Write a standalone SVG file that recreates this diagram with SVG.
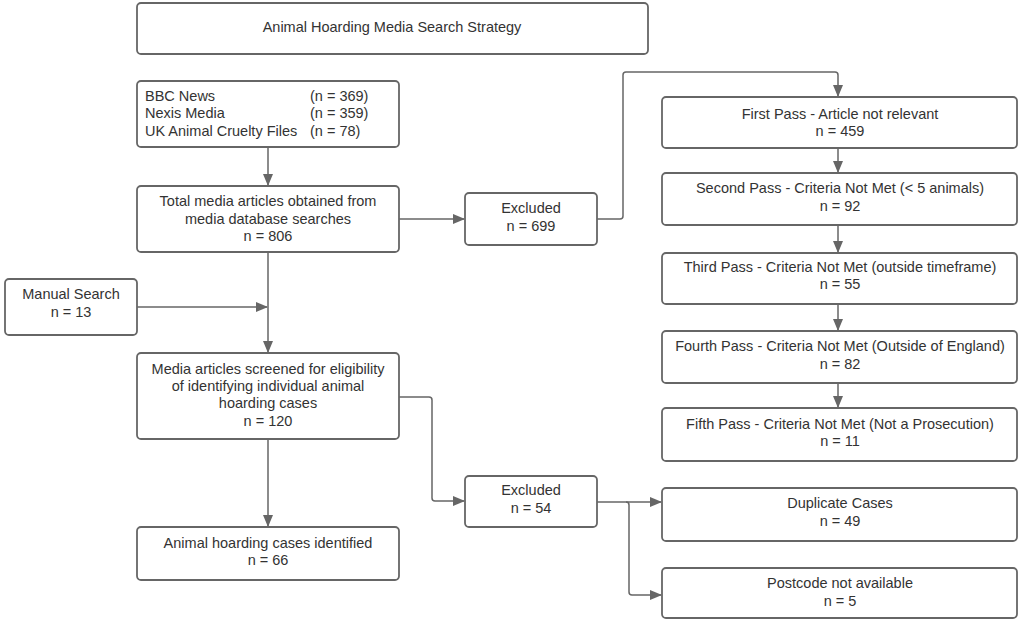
<svg xmlns="http://www.w3.org/2000/svg" width="1020" height="622" viewBox="0 0 1020 622">
<style>
.box{fill:#fff;stroke:#666;stroke-width:1.8}
.t{font-family:"Liberation Sans",Arial,sans-serif;font-size:14.5px;fill:#333;text-anchor:middle;dominant-baseline:central}
.tl{font-family:"Liberation Sans",Arial,sans-serif;font-size:14.5px;fill:#333;dominant-baseline:central}
.c{fill:none;stroke:#666;stroke-width:1.5}
</style>
<defs>
<marker id="ah" viewBox="0 0 12 10" refX="11" refY="5" markerWidth="12" markerHeight="10" markerUnits="userSpaceOnUse" orient="auto">
<path d="M0,0 L12,5 L0,10 Z" fill="#666"/>
</marker>
</defs>
<rect width="1020" height="622" fill="#fff"/>
<g id="connectors">
<path class="c" d="M268,147 V185" marker-end="url(#ah)"/>
<path class="c" d="M399,219 H464" marker-end="url(#ah)"/>
<path class="c" d="M597,219 H620 Q623,219 623,216 V75 Q623,72 626,72 H835 Q838,72 838,75 V96" marker-end="url(#ah)"/>
<path class="c" d="M838,148 V172" marker-end="url(#ah)"/>
<path class="c" d="M838,225 V252" marker-end="url(#ah)"/>
<path class="c" d="M838,304 V330" marker-end="url(#ah)"/>
<path class="c" d="M838,383 V407" marker-end="url(#ah)"/>
<path class="c" d="M268,252 V352" marker-end="url(#ah)"/>
<path class="c" d="M137,307 H267" marker-end="url(#ah)"/>
<path class="c" d="M268,439 V526" marker-end="url(#ah)"/>
<path class="c" d="M399,397 H429 Q432,397 432,400 V498 Q432,501 435,501 H464" marker-end="url(#ah)"/>
<path class="c" d="M597,502 H661" marker-end="url(#ah)"/>
<path class="c" d="M626,502 Q629,502 629,505 V592 Q629,595 632,595 H661" marker-end="url(#ah)"/>
</g>
<g id="title">
<rect class="box" x="137" y="3" width="511" height="51" rx="4"/>
<text class="t" x="392" y="27">Animal Hoarding Media Search Strategy</text>
</g>
<g id="sources">
<rect class="box" x="137" y="81" width="262" height="66" rx="4"/>
<text class="tl" x="145" y="96">BBC News</text>
<text class="tl" x="310" y="96">(n = 369)</text>
<text class="tl" x="145" y="113">Nexis Media</text>
<text class="tl" x="310" y="113">(n = 359)</text>
<text class="tl" x="145" y="131">UK Animal Cruelty Files</text>
<text class="tl" x="310" y="131">(n = 78)</text>
</g>
<g id="total">
<rect class="box" x="137" y="186" width="262" height="66" rx="4"/>
<text class="t" x="268" y="201">Total media articles obtained from</text>
<text class="t" x="268" y="219">media database searches</text>
<text class="t" x="268" y="236">n = 806</text>
</g>
<g id="excluded1">
<rect class="box" x="465" y="193" width="132" height="52" rx="4"/>
<text class="t" x="531" y="208">Excluded</text>
<text class="t" x="531" y="226">n = 699</text>
</g>
<g id="pass1">
<rect class="box" x="662" y="97" width="355" height="51" rx="4"/>
<text class="t" x="840" y="114">First Pass - Article not relevant</text>
<text class="t" x="840" y="131">n = 459</text>
</g>
<g id="pass2">
<rect class="box" x="662" y="173" width="355" height="52" rx="4"/>
<text class="t" x="840" y="188">Second Pass - Criteria Not Met (&lt; 5 animals)</text>
<text class="t" x="840" y="206">n = 92</text>
</g>
<g id="pass3">
<rect class="box" x="662" y="253" width="355" height="51" rx="4"/>
<text class="t" x="840" y="267">Third Pass - Criteria Not Met (outside timeframe)</text>
<text class="t" x="840" y="284">n = 55</text>
</g>
<g id="pass4">
<rect class="box" x="662" y="331" width="355" height="52" rx="4"/>
<text class="t" x="840" y="346">Fourth Pass - Criteria Not Met (Outside of England)</text>
<text class="t" x="840" y="364">n = 82</text>
</g>
<g id="pass5">
<rect class="box" x="662" y="408" width="355" height="53" rx="4"/>
<text class="t" x="840" y="424">Fifth Pass - Criteria Not Met (Not a Prosecution)</text>
<text class="t" x="840" y="441">n = 11</text>
</g>
<g id="manual">
<rect class="box" x="5" y="279" width="132" height="56" rx="4"/>
<text class="t" x="71" y="294">Manual Search</text>
<text class="t" x="71" y="312">n = 13</text>
</g>
<g id="screened">
<rect class="box" x="137" y="353" width="262" height="86" rx="4"/>
<text class="t" x="268" y="369">Media articles screened for eligibility</text>
<text class="t" x="268" y="386">of identifying individual animal</text>
<text class="t" x="268" y="403">hoarding cases</text>
<text class="t" x="268" y="421">n = 120</text>
</g>
<g id="identified">
<rect class="box" x="137" y="527" width="262" height="53" rx="4"/>
<text class="t" x="268" y="543">Animal hoarding cases identified</text>
<text class="t" x="268" y="560">n = 66</text>
</g>
<g id="excluded2">
<rect class="box" x="465" y="476" width="132" height="51" rx="4"/>
<text class="t" x="531" y="490">Excluded</text>
<text class="t" x="531" y="508">n = 54</text>
</g>
<g id="duplicate">
<rect class="box" x="662" y="488" width="355" height="53" rx="4"/>
<text class="t" x="840" y="503">Duplicate Cases</text>
<text class="t" x="840" y="521">n = 49</text>
</g>
<g id="postcode">
<rect class="box" x="662" y="568" width="355" height="50" rx="4"/>
<text class="t" x="840" y="583">Postcode not available</text>
<text class="t" x="840" y="601">n = 5</text>
</g>
</svg>
